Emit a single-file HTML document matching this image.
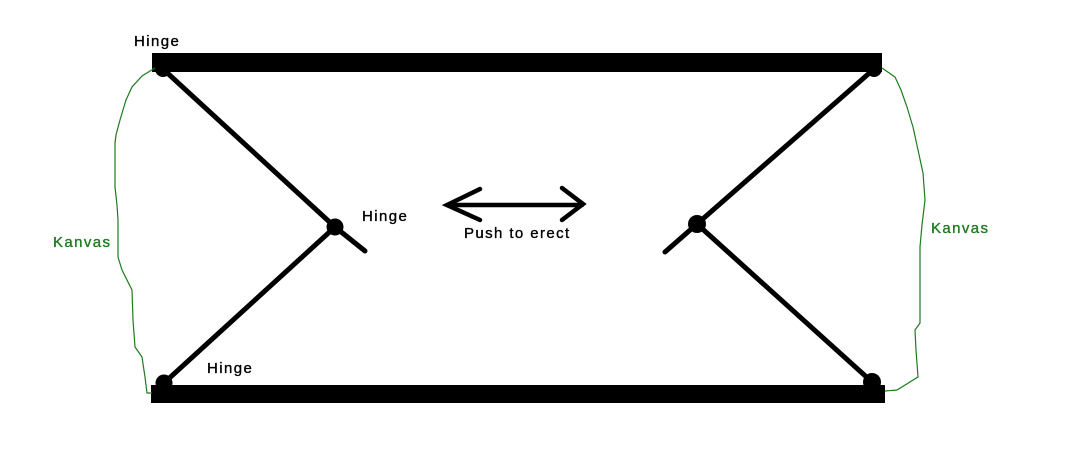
<!DOCTYPE html>
<html>
<head>
<meta charset="utf-8">
<style>
html,body{margin:0;padding:0;background:#fff;}
svg{display:block;}
text{font-family:"Liberation Sans",Arial,sans-serif;font-size:15px;letter-spacing:1.4px;stroke-width:0.35px;}
</style>
</head>
<body>
<svg width="1072" height="469" viewBox="0 0 1072 469" xmlns="http://www.w3.org/2000/svg">
<rect width="1072" height="469" fill="#fff"/>
<!-- bars -->
<rect x="152" y="53" width="730" height="19" fill="#000"/>
<rect x="151" y="385" width="734" height="18" fill="#000"/>
<!-- green canvas curves -->
<polyline fill="none" stroke="#1f7a1f" stroke-width="1.2" points="155,68 142,76 132,87 126,100 120,120 116,135 115,143 115,187 117,205 118,220 118,257 122,270 132,290 133,320 135,347 142,357 145,377 147,393 152,393"/>
<polyline fill="none" stroke="#1f7a1f" stroke-width="1.2" points="882,68 895,77 901,90 907,107 913,127 918,150 923,173 925,200 922,225 920,247 920,323 915,330 916,350 918,377 897,390 885,391"/>
<!-- struts -->
<g stroke="#000" stroke-width="5" stroke-linecap="round">
<line x1="163" y1="69" x2="335" y2="227"/>
<line x1="335" y1="227" x2="365" y2="251"/>
<line x1="164" y1="383" x2="335" y2="227"/>
<line x1="874" y1="69" x2="697" y2="224"/>
<line x1="697" y1="224" x2="665" y2="252"/>
<line x1="697" y1="224" x2="872" y2="382"/>
</g>
<!-- hinges -->
<g fill="#000">
<circle cx="163" cy="69" r="8"/>
<circle cx="335" cy="227" r="8.5"/>
<circle cx="164" cy="383" r="8.5"/>
<circle cx="874" cy="69" r="8"/>
<circle cx="697" cy="224" r="9"/>
<circle cx="872" cy="382" r="9"/>
</g>
<!-- arrow -->
<g stroke="#000" stroke-width="4.5" stroke-linecap="round" fill="none">
<line x1="447" y1="205" x2="582" y2="205"/>
<polyline points="480,189 447,205 480,220"/>
<polyline points="562,188 583,204 562,220"/>
</g>
<!-- labels -->
<text x="134" y="46" fill="#000" stroke="#000">Hinge</text>
<text x="362" y="221" fill="#000" stroke="#000">Hinge</text>
<text x="207" y="373" fill="#000" stroke="#000">Hinge</text>
<text x="464" y="238" fill="#000" stroke="#000">Push to erect</text>
<text x="53" y="247" fill="#1f7a1f" stroke="#1f7a1f">Kanvas</text>
<text x="931" y="233" fill="#1f7a1f" stroke="#1f7a1f">Kanvas</text>
</svg>
</body>
</html>
